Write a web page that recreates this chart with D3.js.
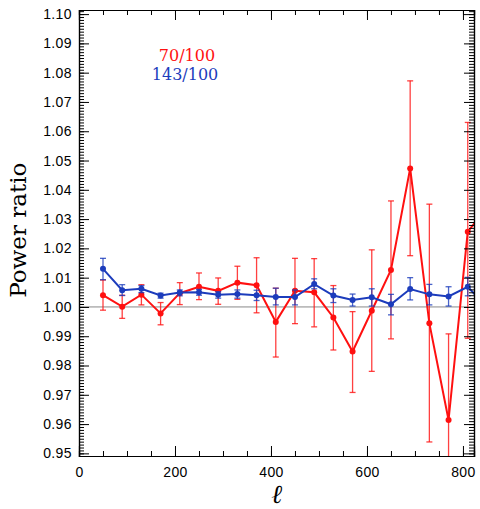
<!DOCTYPE html>
<html>
<head>
<meta charset="utf-8">
<script src="https://cdn.jsdelivr.net/npm/d3@7"></script>
<style>
  html, body { margin: 0; padding: 0; background: #fff; }
  svg { display: block; }
</style>
</head>
<body>
<div id="chart"></div>
<script>
// multipole bin centres
const ell = [50, 90, 130, 170, 210, 250, 290, 330, 370, 410, 450, 490, 530, 570, 610, 650, 690, 730, 770, 810, 850]

// 70/100 ratio and error bar ends
const red    = [1.0040, 1.0001, 1.0042, 0.9978, 1.0047, 1.0069, 1.0055, 1.0083, 1.0074, 0.9949, 1.0055, 1.0050, 0.9964, 0.9848, 0.9987, 1.0126, 1.0473, 0.9944, 0.9614, 1.0257, 1.0339]
const redHi  = [1.0092, 1.0040, 1.0076, 1.0015, 1.0083, 1.0116, 1.0099, 1.0139, 1.0168, 1.0064, 1.0166, 1.0165, 1.0073, 0.9984, 1.0195, 1.0362, 1.0772, 1.0351, 0.9908, 1.0630, 1.0700]
const redLo  = [0.9989, 0.9961, 1.0007, 0.9939, 1.0008, 1.0025, 1.0009, 1.0026, 0.9980, 0.9829, 0.9943, 0.9932, 0.9853, 0.9708, 0.9780, 0.9891, 1.0175, 0.9539, 0.9320, 0.9893, 0.9900]

// 143/100 ratio and error bar ends
const blue   = [1.0130, 1.0057, 1.0062, 1.0039, 1.0049, 1.0050, 1.0042, 1.0044, 1.0040, 1.0034, 1.0034, 1.0078, 1.0039, 1.0024, 1.0033, 1.0009, 1.0061, 1.0043, 1.0036, 1.0069, 0.9998]
const blueHi = [1.0166, 1.0076, 1.0073, 1.0047, 1.0058, 1.0060, 1.0052, 1.0058, 1.0057, 1.0064, 1.0058, 1.0096, 1.0062, 1.0044, 1.0062, 1.0043, 1.0100, 1.0077, 1.0069, 1.0101, 1.0030]
const blueLo = [1.0093, 1.0039, 1.0049, 1.0030, 1.0038, 1.0040, 1.0030, 1.0030, 1.0022, 1.0007, 1.0007, 1.0062, 1.0015, 1.0003, 1.0003, 0.9973, 1.0024, 1.0007, 1.0003, 1.0038, 0.9966]

const xTicks = [0, 200, 400, 600, 800]
const yTicks = [0.95, 0.96, 0.97, 0.98, 0.99, 1.00, 1.01, 1.02, 1.03, 1.04, 1.05, 1.06, 1.07, 1.08, 1.09, 1.10]

const width = 480, height = 509
const margin = { top: 10, right: 6, bottom: 53, left: 79 }
const innerW = width - margin.left - margin.right
const innerH = height - margin.top - margin.bottom

const RED = "#ff1010", BLUE = "#1c3cbc"

const x = d3.scaleLinear().domain([0, 823]).range([0, innerW])
const y = d3.scaleLinear().domain([0.9491, 1.1014]).range([innerH, 0])

const svg = d3.select("#chart").append("svg")
  .attr("width", width).attr("height", height)

svg.append("defs").append("clipPath").attr("id", "plotclip")
  .append("rect").attr("width", innerW).attr("height", innerH)

const g = svg.append("g").attr("transform", `translate(${margin.left},${margin.top})`)

// reference line at unity
g.append("line")
  .attr("x1", 0).attr("x2", innerW)
  .attr("y1", y(1)).attr("y2", y(1))
  .attr("stroke", "#888").attr("stroke-width", 1)

const plot = g.append("g").attr("clip-path", "url(#plotclip)")

function drawSeries(vals, hi, lo, color) {
  const pts = ell.map((l, i) => ({ l, v: vals[i], hi: hi[i], lo: lo[i] }))
  const s = plot.append("g")
  const cap = 3
  // error bars
  const eb = s.selectAll(".eb").data(pts).enter().append("g")
    .attr("stroke", color).attr("stroke-width", 1.3).attr("stroke-opacity", 0.8)
  eb.append("line")
    .attr("x1", d => x(d.l)).attr("x2", d => x(d.l))
    .attr("y1", d => y(d.hi)).attr("y2", d => y(d.lo))
  eb.append("line")
    .attr("x1", d => x(d.l) - cap).attr("x2", d => x(d.l) + cap)
    .attr("y1", d => y(d.hi)).attr("y2", d => y(d.hi))
  eb.append("line")
    .attr("x1", d => x(d.l) - cap).attr("x2", d => x(d.l) + cap)
    .attr("y1", d => y(d.lo)).attr("y2", d => y(d.lo))
  // line
  s.append("path").datum(pts)
    .attr("fill", "none").attr("stroke", color).attr("stroke-width", 2)
    .attr("d", d3.line().x(d => x(d.l)).y(d => y(d.v)))
  // markers
  s.selectAll("circle").data(pts).enter().append("circle")
    .attr("cx", d => x(d.l)).attr("cy", d => y(d.v)).attr("r", 3)
    .attr("fill", color)
}

drawSeries(red, redHi, redLo, RED)
drawSeries(blue, blueHi, blueLo, BLUE)

// axes: ticks point inward on all four sides
const tickFont = "'Liberation Sans', Arial, sans-serif"
function styleAxis(sel) {
  sel.select(".domain").attr("stroke", "#000").attr("stroke-width", 1.2)
  sel.selectAll(".tick line").attr("stroke", "#000").attr("stroke-width", 1)
  sel.selectAll("text").attr("font-family", tickFont).attr("font-size", 14)
    .attr("letter-spacing", 0.4).attr("fill", "#000")
}

const xMinor = d3.range(0, 823, 50)
const yMinor = d3.range(950, 1102, 1).map(v => v / 1000)

// minor ticks
g.append("g").attr("transform", `translate(0,${innerH})`)
  .call(d3.axisBottom(x).tickValues(xMinor).tickSize(-5).tickFormat("")).call(styleAxis)
g.append("g")
  .call(d3.axisTop(x).tickValues(xMinor).tickSize(-5).tickFormat("")).call(styleAxis)
g.append("g")
  .call(d3.axisLeft(y).tickValues(yMinor).tickSize(-5).tickFormat("")).call(styleAxis)
g.append("g").attr("transform", `translate(${innerW},0)`)
  .call(d3.axisRight(y).tickValues(yMinor).tickSize(-5).tickFormat("")).call(styleAxis)

// major ticks
g.append("g").attr("transform", `translate(0,${innerH})`)
  .call(d3.axisBottom(x).tickValues(xTicks).tickSize(-10).tickPadding(11).tickFormat(d3.format("d"))).call(styleAxis)
g.append("g")
  .call(d3.axisTop(x).tickValues(xTicks).tickSize(-10).tickFormat("")).call(styleAxis)
g.append("g")
  .call(d3.axisLeft(y).tickValues(yTicks).tickSize(-10).tickPadding(7).tickFormat(d3.format(".2f"))).call(styleAxis)
g.append("g").attr("transform", `translate(${innerW},0)`)
  .call(d3.axisRight(y).tickValues(yTicks).tickSize(-10).tickFormat("")).call(styleAxis)

// axis titles
const serif = "'DejaVu Serif', 'Liberation Serif', serif"
svg.append("text")
  .attr("transform", `translate(26,${margin.top + y(1.0262)}) rotate(-90)`)
  .attr("text-anchor", "middle")
  .attr("font-family", serif).attr("font-size", 23)
  .text("Power ratio")

svg.append("text")
  .attr("x", margin.left + x(412)).attr("y", 503)
  .attr("text-anchor", "middle")
  .attr("font-family", "'Liberation Serif', serif").attr("font-style", "italic").attr("font-size", 26)
  .text("ℓ")

// legend labels
svg.append("text")
  .attr("x", 187).attr("y", 61).attr("text-anchor", "middle")
  .attr("font-family", serif).attr("font-size", 16).attr("fill", RED)
  .text("70/100")
svg.append("text")
  .attr("x", 185).attr("y", 80).attr("text-anchor", "middle")
  .attr("font-family", serif).attr("font-size", 16).attr("fill", BLUE)
  .text("143/100")
</script>
</body>
</html>
